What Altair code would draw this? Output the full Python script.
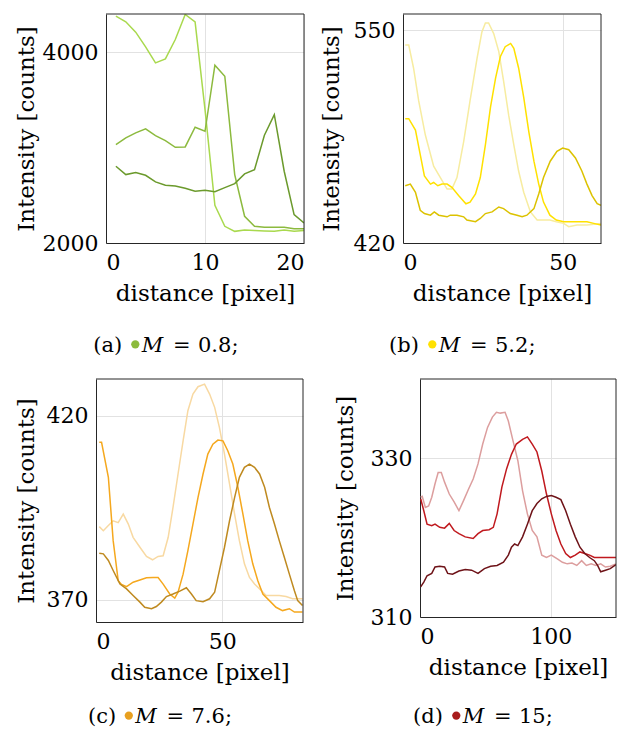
import altair as alt
import pandas as pd

# ---------------- data ----------------
# (a) M = 0.8
a_x = list(range(1, 21))
a_light = [4378, 4318, 4210, 4056, 3888, 3930, 4133, 4395, 4318, 3400, 2395, 2175, 2122, 2136, 2130, 2126, 2122, 2136, 2122, 2130]
a_mid = [3031, 3101, 3154, 3196, 3126, 3073, 3003, 3007, 3213, 3171, 3864, 3748, 2717, 2280, 2175, 2164, 2164, 2164, 2150, 2150]
a_dark = [2804, 2717, 2738, 2710, 2640, 2605, 2598, 2573, 2542, 2552, 2538, 2580, 2622, 2724, 2769, 3129, 3346, 2752, 2297, 2210]

# (b) M = 5.2
b_light_x = [0.7, 1.8, 3.3, 4.9, 7, 9.6, 11.7, 13.8, 15.3, 16.9, 19, 21, 23.2, 24.7, 25.8, 26.8, 28.4, 30, 31.5, 33.1, 34.7, 36.2, 37.8, 39.9, 42, 44, 46, 48, 50.3, 51.9, 54.5, 57.6, 62]
b_light_y = [541, 541, 527, 507, 486, 467, 460, 453, 453, 460, 482, 507, 533, 549, 554.5, 554.5, 548, 537, 519, 498, 480, 464, 451, 439, 434, 434, 434, 433, 432, 430, 431, 431, 432]
b_mid_x = [0.7, 1.8, 3.9, 5.4, 6.7, 8.6, 9.6, 10.9, 12.2, 13.8, 15.3, 17.4, 19.7, 21, 22.7, 24.2, 25.8, 27.4, 29, 30.5, 32, 33.7, 34.7, 36.2, 37.8, 39.4, 41, 42.5, 44, 46, 48, 50.3, 53.4, 57.6, 59.7, 62]
b_mid_y = [496, 496, 489, 474, 461, 456, 457, 455, 456, 456, 454, 449, 444, 445, 450, 460, 480, 503, 521, 534, 540, 542, 539, 527, 509, 488, 470, 456, 445, 437, 434, 433, 433, 433, 432, 431]
b_dark_x = [0.7, 2.3, 3.9, 5.4, 6.7, 8.6, 9.8, 11.2, 13.8, 14.8, 16.9, 19, 20, 22.7, 24.2, 25.8, 27.9, 30, 31.5, 33.6, 35.7, 37.3, 38.8, 41, 42.5, 44, 46.1, 48.2, 50, 51.9, 54, 56, 57.6, 59.2, 60.8, 62]
b_dark_y = [455, 456, 451, 440, 438, 437, 439, 437, 436, 437, 437, 436, 434, 433, 435, 438, 439, 442, 441, 438, 437, 436, 437, 441, 450, 460, 470, 476, 478, 477, 472, 464, 456, 449, 444, 443]

# (c) M = 7.6
c_light_x = [1.3, 2.9, 4.9, 6.8, 8.8, 10.8, 12.8, 14.7, 17.4, 20, 22.4, 24.6, 26.6, 28.6, 30.5, 32.5, 34.5, 36.4, 38.4, 40.4, 43, 45, 47, 48.9, 50.9, 52.9, 54.9, 56.8, 58.8, 60.8, 62.8, 64.8, 67.4, 70, 72.6, 75.3, 77.9, 81.8]
c_light_y = [389.9, 388.8, 390.2, 391.5, 391, 393.3, 390.6, 387, 384.3, 381.8, 380.9, 381.8, 382, 387, 395.1, 404.2, 413.2, 421.4, 425.9, 427.9, 428.6, 425.9, 422.3, 416.8, 409.6, 401.5, 393.3, 386.1, 379.8, 376.1, 374.3, 373, 371.2, 371.2, 371.2, 370.9, 370.3, 370.3]
c_mid_x = [1.3, 2.2, 4.9, 6.8, 8.8, 10.1, 12.1, 14.7, 17.4, 20, 22.6, 24.6, 26.6, 29.2, 31.2, 32.5, 34.5, 36.4, 38.4, 40.4, 42.4, 44.3, 46.3, 48.3, 50.3, 52.2, 54.2, 56.2, 58.2, 60.1, 62.1, 64.1, 66.1, 68.7, 71.3, 73.9, 76.6, 78.6, 81.8]
c_mid_y = [412.8, 412.8, 403.3, 386.1, 375.2, 374.2, 373.6, 374.8, 375.4, 376, 376.1, 376.1, 374.3, 371.6, 370.5, 372.1, 377, 383.4, 390.6, 397.8, 404.2, 409.6, 412.3, 413.4, 413.2, 410.5, 406.9, 400.6, 393.3, 386.1, 379.8, 375.2, 371.6, 369.8, 368, 367.1, 367.6, 366.7, 366.7]
c_dark_x = [1.3, 2.9, 4.9, 6.8, 9.5, 12.1, 14.7, 17.4, 19.3, 22, 23.9, 25.9, 27.9, 30.5, 33.2, 35.8, 37.8, 39.7, 42.4, 45, 47, 48.9, 50.9, 52.9, 54.9, 56.8, 58.8, 60.8, 62.8, 64.8, 66.8, 68.7, 70.7, 72.6, 74.6, 76.6, 78.6, 79.9, 81.8]
c_dark_y = [382.7, 382.5, 380.7, 378, 374.3, 373, 371.2, 369.4, 368, 367.6, 368.2, 369.4, 370.9, 371.6, 372.4, 373.3, 371.6, 369.8, 369.5, 370.3, 372.1, 378, 384.3, 391.5, 397.8, 403.3, 406, 406.9, 406, 404.2, 400.6, 395.1, 390.6, 386.1, 381.6, 377, 372.5, 369.8, 368.5]

# (d) M = 15
d_light_x = [0.5, 1.7, 4.1, 6.6, 9, 11.5, 13.9, 16.3, 18.8, 22.4, 26.1, 29.8, 33.4, 37.1, 40.7, 44.4, 48, 51.7, 55.4, 58.5, 61.5, 65.1, 67.6, 71.2, 74.9, 78.5, 82.2, 85.9, 89.5, 93.2, 96.8, 100.5, 105.4, 109, 112.7, 116.3, 120, 123.7, 127.3, 131, 134.6, 138.3, 141.9, 145.6, 150]
d_light_y = [325.1, 325.2, 323.8, 324, 325.1, 326.8, 328.2, 328.2, 327, 325.5, 324.5, 323.4, 324.7, 326.1, 327.4, 329.3, 331.8, 333.9, 335.2, 335.8, 335.7, 335.8, 334.7, 332.2, 329.7, 325.9, 323, 320.9, 320.1, 317.8, 317.5, 317.8, 317.3, 316.9, 316.7, 316.8, 316.5, 317.1, 316.5, 316.7, 316.5, 316.7, 316.3, 316.4, 316.7]
d_mid_x = [0.5, 2.9, 5.4, 9, 11.5, 15.1, 18.8, 22.4, 26.1, 29.8, 34.6, 40.7, 44.4, 48, 52.9, 56.1, 59, 62.7, 66.3, 70, 73.7, 78.5, 82.2, 85.9, 89.5, 93.2, 96.8, 100.5, 104.1, 107.8, 111.5, 115.1, 118.8, 122.4, 126.1, 129.8, 133.4, 137.1, 142, 145.6, 150]
d_mid_y = [324.9, 323.4, 321.7, 321.5, 321.7, 321.3, 321.2, 321.8, 320.9, 320.5, 320.1, 319.9, 320.5, 320.9, 321, 321.3, 323, 326.4, 328.7, 330.5, 331.8, 332.4, 332.7, 331.8, 330.8, 328.4, 325.5, 323, 320.9, 319.2, 318, 317.5, 317.8, 318.2, 318, 317.8, 317.5, 317.5, 317.5, 317.5, 317.5]
d_dark_x = [0.5, 2.9, 5.4, 9, 11.5, 15.1, 18.8, 21.2, 24.9, 29.8, 34.6, 39.5, 44.4, 49.3, 54.1, 59, 63.9, 67.6, 70, 72.4, 74.9, 78.5, 82.2, 85.9, 89.5, 93.2, 96.8, 100.5, 104.1, 107.8, 111.5, 115.1, 118.8, 122.4, 126.1, 129.8, 133.4, 135.9, 138.3, 142, 145.6, 150]
d_dark_y = [313.8, 314.4, 315.2, 315.5, 316.3, 316.4, 316.3, 315.5, 315.4, 315.8, 316, 315.9, 315.5, 316.1, 316.4, 316.5, 316.9, 317.8, 318.8, 319.2, 319, 320.1, 321.7, 323.4, 324.3, 324.9, 325.2, 325.3, 325.1, 324.8, 323.4, 321.7, 320.1, 318.8, 318, 317.5, 317.1, 316.5, 315.7, 315.9, 316.1, 316.6]

colors_a = ["#a9d94e", "#8cba3e", "#6b9a2c"]
colors_b = ["#f7eca0", "#ffe100", "#dcc200"]
colors_c = ["#f8d9a2", "#f5a81e", "#bf8a20"]
colors_d = ["#dc9e9e", "#c0191e", "#6e1318"]
bullet_colors = ["#8cbb3c", "#ffe100", "#e8a020", "#a81c1c"]

cap_labels = ["(a)", "(b)", "(c)", "(d)"]
cap_values = ["0.8;", "5.2;", "7.6;", "15;"]

x_title = "distance [pixel]"
y_title = "Intensity [counts]"

FONT = "DejaVu Serif"
LAB = 22
TIT = 23
FRAME = "#262626"


def caption_layers(label, value, bcolor, start, base, extra):
    lay = []
    t = dict(font=FONT, fontSize=21, color="black", align="left", baseline="alphabetic")
    lay.append(alt.Chart(pd.DataFrame({"t": [label]})).mark_text(**t).encode(
        text="t:N", x=alt.value(start), y=alt.value(base)))
    lay.append(alt.Chart(pd.DataFrame({"t": [label]})).mark_circle(size=68, color=bcolor, opacity=1).encode(
        x=alt.value(start + 42 + extra), y=alt.value(base - 7.4)))
    lay.append(alt.Chart(pd.DataFrame({"t": ["M"]})).mark_text(fontStyle="italic", **t).encode(
        text="t:N", x=alt.value(start + 48.4 + extra), y=alt.value(base)))
    lay.append(alt.Chart(pd.DataFrame({"t": ["="]})).mark_text(**t).encode(
        text="t:N", x=alt.value(start + 79.7 + extra), y=alt.value(base)))
    lay.append(alt.Chart(pd.DataFrame({"t": [value]})).mark_text(**t).encode(
        text="t:N", x=alt.value(start + 104.7 + extra), y=alt.value(base)))
    return lay


def panel(series, colors, xdom, ydom, xvals, yvals, w, h, idx, start, base, extra, shift=0, ytp=4):
    # shift: plot area starts `shift` px right of the cell origin
    xax = alt.Axis(values=xvals, title=x_title, format="d",
                   labelFont=FONT, labelFontSize=LAB, titleFont=FONT, titleFontSize=TIT,
                   labelPadding=9, titlePadding=9, domain=True, domainColor=FRAME)
    yax = alt.Axis(values=yvals, title=y_title, format="d", offset=-shift,
                   labelFont=FONT, labelFontSize=LAB, titleFont=FONT, titleFontSize=TIT,
                   labelPadding=8, titlePadding=ytp, domain=True, domainColor=FRAME)
    xsc = alt.Scale(domain=xdom, nice=False, zero=False, range=[shift, shift + w])
    ysc = alt.Scale(domain=ydom, nice=False, zero=False)
    layers = []
    for (xs, ys), col in zip(series, colors):
        df = pd.DataFrame({"x": xs, "y": ys})
        layers.append(alt.Chart(df).mark_line(strokeWidth=1.5, clip=True, color=col).encode(
            x=alt.X("x:Q", scale=xsc, axis=xax),
            y=alt.Y("y:Q", scale=ysc, axis=yax),
        ))
    # top and right edges of the box, in data coordinates
    edge = pd.DataFrame({"k": [0]})
    layers.append(alt.Chart(edge).mark_rule(color=FRAME, strokeWidth=1).encode(
        x=alt.datum(xdom[0], scale=xsc), x2=alt.datum(xdom[1]),
        y=alt.datum(ydom[1], scale=ysc)))
    layers.append(alt.Chart(edge).mark_rule(color=FRAME, strokeWidth=1).encode(
        x=alt.datum(xdom[1], scale=xsc),
        y=alt.datum(ydom[0], scale=ysc), y2=alt.datum(ydom[1])))
    caps = caption_layers(cap_labels[idx], cap_values[idx], bullet_colors[idx], start + shift, base, extra)
    return alt.layer(*layers, *caps).properties(width=w + shift, height=h)


pa = panel([(a_x, a_light), (a_x, a_mid), (a_x, a_dark)],
           colors_a, [0, 20], [2000, 4400], [0, 10, 20], [2000, 4000], 198, 229, 0, -12.7, 337.7, 0,
           shift=10, ytp=4)
pb = panel([(b_light_x, b_light_y), (b_mid_x, b_mid_y), (b_dark_x, b_dark_y)],
           colors_b, [0, 62], [420, 560], [0, 50], [420, 550], 198, 229, 1, -14, 337.7, 1.3, ytp=10)
pc = panel([(c_light_x, c_light_y), (c_mid_x, c_mid_y), (c_dark_x, c_dark_y)],
           colors_c, [0, 82], [364, 430], [0, 50], [370, 420], 207, 243, 2, -8, 344, -1.2, ytp=8)
pd_ = panel([(d_light_x, d_light_y), (d_mid_x, d_mid_y), (d_dark_x, d_dark_y)],
            colors_d, [0, 150], [310, 340], [0, 100], [310, 330], 196, 238, 3, -7, 344, 1.3, ytp=13)

row1 = alt.hconcat(pa, pb, spacing=15)
row2 = alt.hconcat(pc, pd_, spacing=30)

chart = alt.vconcat(row1, row2, spacing=22).properties(
    padding={"left": 7, "top": 5, "right": 0, "bottom": 0}
).configure(
    font=FONT
).configure_view(
    strokeWidth=0
).configure_axis(
    labelColor="black", titleColor="black", titleFontWeight="normal",
    gridColor="#e2e2e2", gridWidth=1, ticks=False, tickSize=0,
)

chart.save("out.html", embed_options={"renderer": "svg", "actions": False})
